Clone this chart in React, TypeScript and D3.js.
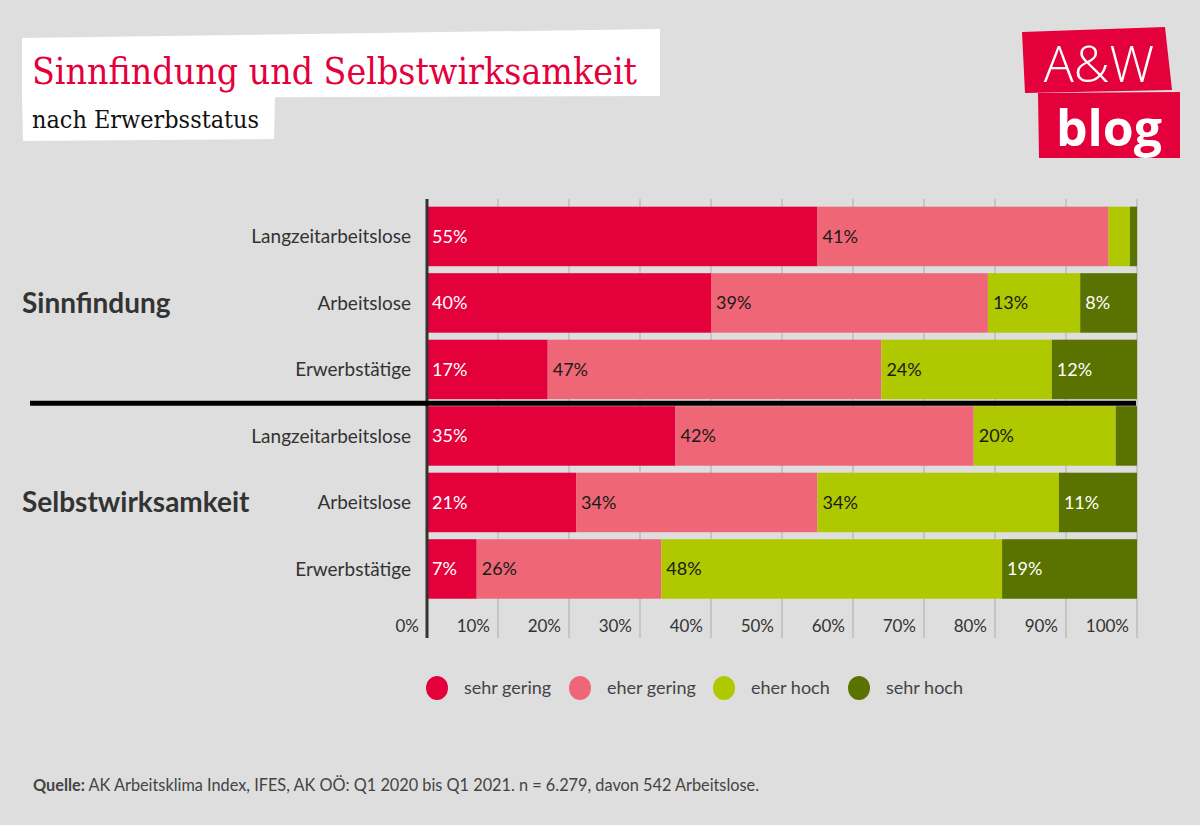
import React from "react";
import * as d3 from "d3";

const groups = ["Sinnfindung", "Selbstwirksamkeit"];
const categories = ["Langzeitarbeitslose", "Arbeitslose", "Erwerbstätige"];
const seriesNames = ["sehr gering", "eher gering", "eher hoch", "sehr hoch"];
const seriesColors = ["#e4003b", "#ef6776", "#afc800", "#5a7300"];
const labelColors = ["#ffffff", "#1a1a1a", "#1a1a1a", "#ffffff"];
// rows: group x category, values per series
const sinnValues = [
  [55, 41, 3, 1],
  [40, 39, 13, 8],
  [17, 47, 24, 12],
];
const selbstValues = [
  [35, 42, 20, 3],
  [21, 34, 34, 11],
  [7, 26, 48, 19],
];
const ticks = [0, 10, 20, 30, 40, 50, 60, 70, 80, 90, 100];

const W = 1200;
const H = 825;
const FONT = "Lato, 'Noto Sans', sans-serif";

export default function App() {
  const rows = [
    ...categories.map((c, i) => ({ key: "s" + i, cat: c, vals: sinnValues[i] })),
    ...categories.map((c, i) => ({ key: "w" + i, cat: c, vals: selbstValues[i] })),
  ];
  const x = d3.scaleLinear().domain([0, 100]).range([427, 1137]);
  const y = d3
    .scaleBand()
    .domain(rows.map((r) => r.key))
    .range([199.7, 605.7])
    .padding(0.105);
  const stack = rows.map((r) => {
    let acc = 0;
    return r.vals.map((v, i) => {
      const s = { x0: acc, x1: acc + v, v, i };
      acc += v;
      return s;
    });
  });
  const bw = y.bandwidth();
  const sepY = (y("s2")! + bw + y("w0")!) / 2 + 0.5;

  return (
    <svg width={W} height={H} style={{ display: "block", position: "absolute", left: 0, top: 0 }}>
      <rect width={W} height={H} fill="#dedede" />
      {/* Title boxes */}
      <polygon points="22,38 660,29 660,96 22,98" fill="#ffffff" />
      <polygon points="22,96 275,96 274,139 23,141" fill="#ffffff" />
      <text x={32} y={84} fill="#e4003b" fontFamily="'DejaVu Serif', serif" fontSize={38}
        textLength={605} lengthAdjust="spacingAndGlyphs">
        Sinnfindung und Selbstwirksamkeit
      </text>
      <text x={32} y={128} fill="#111" fontFamily="'DejaVu Serif', serif" fontSize={24}
        textLength={227} lengthAdjust="spacingAndGlyphs">
        nach Erwerbsstatus
      </text>
      {/* Logo */}
      <polygon points="1022,32 1165,27 1172,90 1025,93" fill="#e4003b" />
      <polygon points="1038,93 1180,92 1180,158 1039,158" fill="#e4003b" />
      <text x={1099} y={82} textAnchor="middle" fill="#fff" fontFamily="'Open Sans', sans-serif"
        fontSize={50} fontWeight={300}>A&amp;W</text>
      <text x={1109} y={146} textAnchor="middle" fill="#fff" fontFamily="'Open Sans', sans-serif"
        fontSize={50} fontWeight={700}>blog</text>

      {/* gridlines */}
      {ticks.slice(1).map((t) => (
        <line key={t} x1={x(t)} x2={x(t)} y1={199} y2={638} stroke="#bcbcbc" strokeWidth={1.5} />
      ))}

      {/* bars */}
      {rows.map((r, ri) => (
        <g key={r.key}>
          {stack[ri].map((s) => (
            <rect key={s.i} x={x(s.x0)} y={y(r.key)} width={x(s.x1) - x(s.x0)} height={bw}
              fill={seriesColors[s.i]} />
          ))}
          {stack[ri].map((s) =>
            s.v >= 5 ? (
              <text key={"t" + s.i} x={x(s.x0) + 5} y={y(r.key)! + bw / 2} dy="0.35em"
                fill={labelColors[s.i]} fontFamily={FONT} fontSize={18}>
                {s.v}%
              </text>
            ) : null
          )}
          <text x={411} y={y(r.key)! + bw / 2} dy="0.35em" textAnchor="end" fill="#333"
            fontFamily={FONT} fontSize={19}>
            {r.cat}
          </text>
        </g>
      ))}

      {/* axis line */}
      <line x1={427} x2={427} y1={199} y2={638} stroke="#333" strokeWidth={3} />
      {/* separator */}
      <line x1={30} x2={1136} y1={sepY} y2={sepY} stroke="#000" strokeWidth={5} />

      {/* group labels */}
      <text x={22} y={(y("s1")! + bw / 2)} dy="0.35em" fill="#333" fontFamily={FONT}
        fontSize={28} fontWeight={700}>{groups[0]}</text>
      <text x={22} y={(y("w1")! + bw / 2)} dy="0.35em" fill="#333" fontFamily={FONT}
        fontSize={28} fontWeight={700}>{groups[1]}</text>

      {/* tick labels */}
      {ticks.map((t) => (
        <text key={t} x={x(t) - 8} y={626} dy="0.35em" textAnchor="end" fill="#333"
          fontFamily={FONT} fontSize={17}>
          {t}%
        </text>
      ))}

      {/* legend */}
      {seriesNames.map((n, i) => {
        const cx = [437, 580, 724, 859][i];
        return (
          <g key={n}>
            <ellipse cx={cx} cy={688} rx={11} ry={12} fill={seriesColors[i]} />
            <text x={cx + 27} y={688} dy="0.35em" fill="#444" fontFamily={FONT} fontSize={18}>{n}</text>
          </g>
        );
      })}

      {/* source */}
      <text x={33} y={785} dy="0.35em" fill="#444" fontFamily={FONT} fontSize={16.3}>
        <tspan fontWeight={700}>Quelle:</tspan> AK Arbeitsklima Index, IFES, AK OÖ: Q1 2020 bis Q1 2021. n = 6.279, davon 542 Arbeitslose.
      </text>
    </svg>
  );
}
